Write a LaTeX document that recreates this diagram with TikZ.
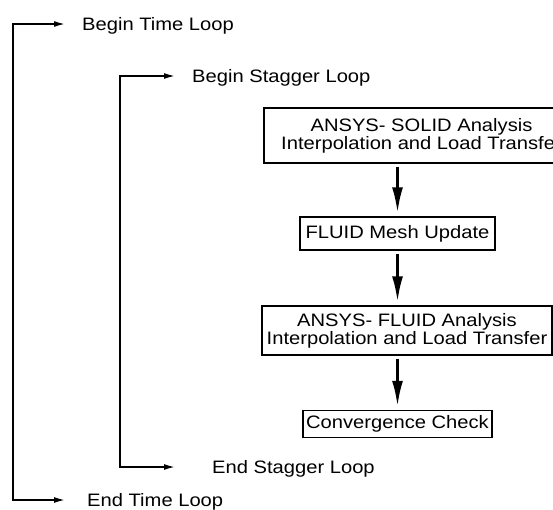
\documentclass[tikz,border=0pt]{standalone}
\usepackage{fontspec}
\setmainfont{Liberation Sans}[FakeStretch=1.12]
\usetikzlibrary{arrows.meta}

\begin{document}
\begin{tikzpicture}[x=1pt,y=-1pt,
  box/.style={draw,line width=1.5pt,align=center,inner sep=0pt,
    font=\fontsize{18}{15.5}\selectfont},
  looptext/.style={anchor=west,inner sep=0pt,text height=13pt,text depth=0pt,
    font=\fontsize{18}{20}\selectfont},
  loopline/.style={line width=1.6pt,
    {Latex[length=11pt,width=6pt]}-{Latex[length=11pt,width=6pt]}},
  flow/.style={line width=3pt,-{Latex[length=26pt,width=11pt]},
    shorten <=3pt,shorten >=3pt}]
  \useasboundingbox (0,0) rectangle (553,509);
  \clip (0,0) rectangle (553,509);
  \node[looptext] (beginTime) at (82,24) {Begin Time Loop};
  \node[looptext] (beginStagger) at (192,76) {Begin Stagger Loop};
  \node[looptext] (endStagger) at (212,467) {End Stagger Loop};
  \node[looptext] (endTime) at (87,500) {End Time Loop};
  \coordinate (timeTop) at (13,24);
  \coordinate (timeBot) at (13,500);
  \coordinate (staggerTop) at (120,76);
  \coordinate (staggerBot) at (120,467);
  \node[box,minimum width=315pt,minimum height=55pt] (solidBox) at (421.5,135.5)
    {ANSYS- SOLID Analysis\\Interpolation and Load Transfer};
  \node[box,minimum width=195pt,minimum height=33pt] (meshBox) at (397.5,233.5)
    {FLUID Mesh Update};
  \node[box,minimum width=290pt,minimum height=49pt] (fluidBox) at (407,330.5)
    {ANSYS- FLUID Analysis\\Interpolation and Load Transfer};
  \node[box,minimum width=189pt,minimum height=27pt] (checkBox) at (397.5,424)
    {Convergence Check};
  \draw[loopline,shorten <=17pt,shorten >=22pt]
    (beginTime.west) -- (timeTop) -- (timeBot) -- (endTime.west);
  \draw[loopline,shorten <=17pt,shorten >=37pt]
    (beginStagger.west) -- (staggerTop) -- (staggerBot) -- (endStagger.west);
  \draw[flow] (solidBox.south -| meshBox) -- (meshBox);
  \draw[flow] (meshBox) -- (meshBox |- fluidBox.north);
  \draw[flow] (fluidBox.south -| checkBox) -- (checkBox);
\end{tikzpicture}
\end{document}
